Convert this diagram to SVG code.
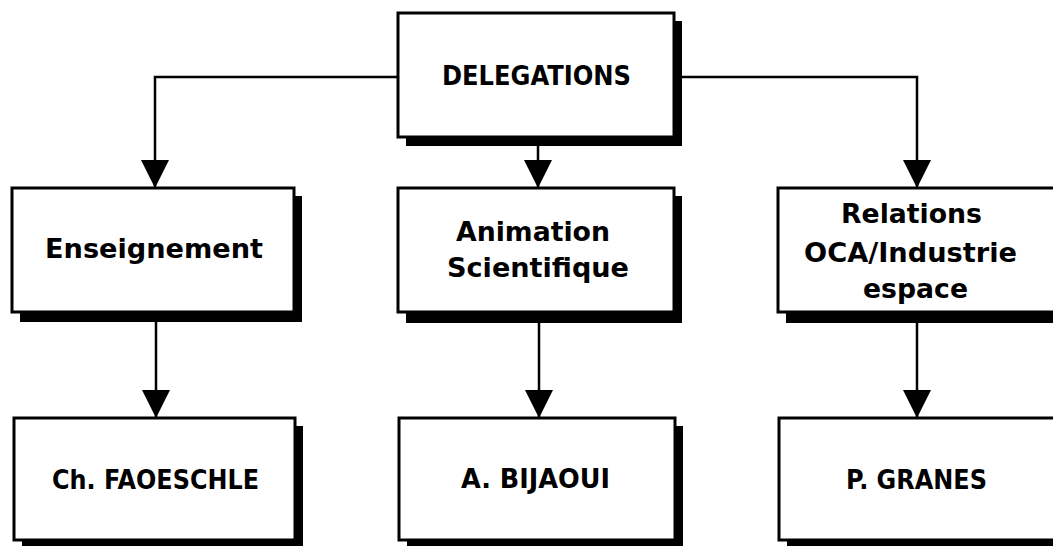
<svg xmlns="http://www.w3.org/2000/svg" width="1053" height="546" viewBox="0 0 1053 546">
  <style>
    .shadow { fill: #000; }
    .box { fill: #fff; stroke: #000; stroke-width: 3; }
    .lbl { font-family: "DejaVu Sans", "Liberation Sans", sans-serif; font-weight: bold; font-size: 26px; fill: #000; text-anchor: middle; }
    .conn { fill: none; stroke: #000; stroke-width: 2.5; }
  </style>
  <defs>
    <marker id="arr" viewBox="0 0 28 28" refX="28" refY="14" markerWidth="28" markerHeight="28" markerUnits="userSpaceOnUse" orient="auto">
      <path d="M0,0 L28,14 L0,28 Z" fill="#000"/>
    </marker>
  </defs>
  <rect width="1053" height="546" fill="#fff"/>

  <g id="connectors">
    <path class="conn" d="M398,77 H155 V188" marker-end="url(#arr)"/>
    <path class="conn" d="M538,146 V188" marker-end="url(#arr)"/>
    <path class="conn" d="M682,77 H917 V188" marker-end="url(#arr)"/>
    <path class="conn" d="M156,322 V418" marker-end="url(#arr)"/>
    <path class="conn" d="M539,323 V418" marker-end="url(#arr)"/>
    <path class="conn" d="M917,323 V418" marker-end="url(#arr)"/>
  </g>

  <g id="delegations">
    <rect class="shadow" x="406" y="21" width="276" height="125"/>
    <rect class="box" x="398" y="13" width="276" height="124"/>
    <text class="lbl" x="536.5" y="85" textLength="189" lengthAdjust="spacingAndGlyphs">DELEGATIONS</text>
  </g>

  <g id="enseignement">
    <rect class="shadow" x="20" y="196" width="282" height="126"/>
    <rect class="box" x="12" y="188" width="282" height="124"/>
    <text class="lbl" x="154" y="258" textLength="218" lengthAdjust="spacingAndGlyphs">Enseignement</text>
  </g>

  <g id="animation">
    <rect class="shadow" x="406" y="196" width="276" height="127"/>
    <rect class="box" x="398" y="188" width="276" height="124"/>
    <text class="lbl" x="533" y="241" textLength="154" lengthAdjust="spacingAndGlyphs">Animation</text>
    <text class="lbl" x="538" y="277" textLength="182" lengthAdjust="spacingAndGlyphs">Scientifique</text>
  </g>

  <g id="relations">
    <rect class="shadow" x="786" y="196" width="290" height="127"/>
    <rect class="box" x="778" y="188" width="290" height="124"/>
    <text class="lbl" x="911.5" y="223" textLength="141" lengthAdjust="spacingAndGlyphs">Relations</text>
    <text class="lbl" x="910.5" y="262" textLength="213" lengthAdjust="spacingAndGlyphs">OCA/Industrie</text>
    <text class="lbl" x="915.5" y="298" textLength="105" lengthAdjust="spacingAndGlyphs">espace</text>
  </g>

  <g id="faoeschle">
    <rect class="shadow" x="22" y="426" width="281" height="124"/>
    <rect class="box" x="14" y="418" width="281" height="122"/>
    <text class="lbl" x="155.5" y="489" textLength="207" lengthAdjust="spacingAndGlyphs">Ch. FAOESCHLE</text>
  </g>

  <g id="bijaoui">
    <rect class="shadow" x="407" y="426" width="276" height="124"/>
    <rect class="box" x="399" y="418" width="276" height="122"/>
    <text class="lbl" x="535.5" y="488" textLength="149" lengthAdjust="spacingAndGlyphs">A. BIJAOUI</text>
  </g>

  <g id="granes">
    <rect class="shadow" x="787" y="426" width="290" height="124"/>
    <rect class="box" x="779" y="418" width="290" height="122"/>
    <text class="lbl" x="916.5" y="489" textLength="141" lengthAdjust="spacingAndGlyphs">P. GRANES</text>
  </g>
</svg>
